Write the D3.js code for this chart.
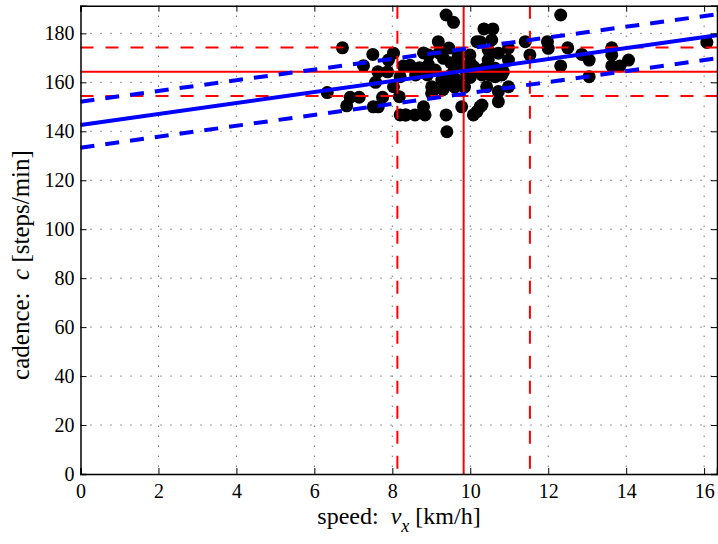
<!DOCTYPE html>
<html>
<head>
<meta charset="utf-8">
<script src="https://cdn.jsdelivr.net/npm/d3@7"></script>
<style>
  body { margin: 0; background: #fff; }
</style>
</head>
<body>
<div id="chart"></div>
<script>
// speed [km/h] and cadence [steps/min] of each run
var speed = [6.72, 7.50, 7.26, 7.90, 8.03, 7.63, 7.88, 8.28, 8.20, 7.57, 8.03, 6.33, 6.92, 7.15, 7.75, 8.18,
  6.83, 7.51, 7.64, 8.20, 8.35, 9.38, 9.57, 9.18, 10.17, 8.93, 9.31, 9.69, 9.99, 8.93, 9.74, 9.27, 9.48,
  9.65, 9.01, 9.01, 8.80, 9.78, 8.33, 8.58, 8.84, 9.38, 9.40, 10.35, 10.58, 10.25, 10.55, 10.98, 11.41,
  10.46, 10.72, 11.53, 10.46, 10.98, 10.08, 10.38, 10.64, 10.85, 10.51, 10.64, 10.81, 10.42, 10.98,
  10.72, 10.72, 10.30, 10.17, 10.08, 12.32, 11.98, 12.00, 12.50, 12.86, 13.05, 12.32, 13.05, 13.63,
  13.63, 13.63, 13.84, 14.06, 16.07, 8.70, 8.90, 9.10, 9.50, 9.60, 9.90, 10.00, 9.30, 9.60, 9.85,
  10.00, 9.20, 8.80, 9.50, 10.20, 10.30, 8.45, 8.60, 9.45, 10.25];
var cadence = [174.1, 171.4, 166.8, 169.1, 171.9, 164.3, 164.3, 166.7, 162.3, 160.0, 158.2, 155.8, 153.9,
  153.9, 153.9, 154.1, 150.4, 150.0, 150.0, 146.7, 146.7, 187.5, 184.5, 176.6, 176.6, 171.2, 169.8,
  171.2, 171.2, 167.1, 167.1, 160.9, 159.6, 160.9, 158.2, 155.5, 150.0, 150.0, 146.7, 146.7, 146.7,
  146.7, 139.8, 181.8, 181.8, 176.6, 177.3, 174.1, 176.6, 173.2, 171.9, 171.2, 169.1, 169.1, 166.4,
  165.7, 165.7, 164.3, 163.0, 162.3, 163.0, 158.2, 158.2, 156.2, 152.1, 150.7, 148.0, 146.7, 187.5,
  176.6, 173.9, 174.1, 171.4, 169.1, 166.7, 162.3, 174.1, 171.2, 166.7, 166.7, 169.1, 176.3, 166.0,
  163.0, 165.0, 163.0, 166.0, 164.0, 162.0, 157.0, 158.0, 158.0, 168.0, 172.0, 172.0, 168.0, 165.0,
  163.0, 167.0, 163.0, 174.0, 150.0];

// mean and mean +/- std of speed and cadence
var speedStats = [8.13, 9.83, 11.53];
var cadenceStats = [154.4, 164.3, 174.2];

// linear fit and its band, as [speed, cadence] end points
var fitMid = [[0, 142.6], [16.33, 179.2]];
var fitUpper = [[0, 152.1], [16.33, 187.8]];
var fitLower = [[0, 133.3], [16.33, 169.8]];

var xTicks = [0, 2, 4, 6, 8, 10, 12, 14, 16];
var yTicks = [0, 20, 40, 60, 80, 100, 120, 140, 160, 180];

var serif = "Liberation Serif";

var svgWidth = 718, svgHeight = 544;
var margin = {top: 5.7, right: 1, bottom: 70, left: 80.5};
var width = svgWidth - margin.left - margin.right;
var height = svgHeight - margin.top - margin.bottom;

var svg = d3.select("#chart").append("svg")
  .attr("width", svgWidth)
  .attr("height", svgHeight);

var g = svg.append("g")
  .attr("transform", `translate(${margin.left}, ${margin.top})`);

var xScale = d3.scaleLinear().domain([0, 16.33]).range([0, width]);
var yScale = d3.scaleLinear().domain([0, 191.3]).range([height, 0]);

// dotted grid
g.append("g").selectAll("line").data(xTicks.slice(1)).enter().append("line")
  .attr("x1", d => xScale(d)).attr("x2", d => xScale(d))
  .attr("y1", 0).attr("y2", height)
  .attr("stroke", "#333").attr("stroke-width", 1).attr("stroke-dasharray", "1,9");
g.append("g").selectAll("line").data(yTicks.slice(1)).enter().append("line")
  .attr("y1", d => yScale(d)).attr("y2", d => yScale(d))
  .attr("x1", 0).attr("x2", width)
  .attr("stroke", "#333").attr("stroke-width", 1).attr("stroke-dasharray", "1,9");

// data points
var points = speed.map((v, i) => ({v: v, c: cadence[i]}));
g.append("g").selectAll("circle").data(points).enter().append("circle")
  .attr("cx", d => xScale(d.v))
  .attr("cy", d => yScale(d.c))
  .attr("r", 6.5)
  .attr("fill", "black");

// red mean / std lines
g.append("g").selectAll("line").data(speedStats).enter().append("line")
  .attr("x1", d => xScale(d)).attr("x2", d => xScale(d))
  .attr("y1", 0).attr("y2", height)
  .attr("stroke", "red").attr("stroke-width", 2)
  .attr("stroke-dasharray", (d, i) => i == 1 ? null : "13,12");
g.append("g").selectAll("line").data(cadenceStats).enter().append("line")
  .attr("y1", d => yScale(d)).attr("y2", d => yScale(d))
  .attr("x1", 0).attr("x2", width)
  .attr("stroke", "red").attr("stroke-width", 2)
  .attr("stroke-dasharray", (d, i) => i == 1 ? null : "13,12");

// blue fit lines
var line = d3.line().x(d => xScale(d[0])).y(d => yScale(d[1]));
g.append("path").datum(fitMid).attr("d", line)
  .attr("fill", "none").attr("stroke", "#0000ff").attr("stroke-width", 4);
[fitUpper, fitLower].forEach(function(f) {
  g.append("path").datum(f).attr("d", line)
    .attr("fill", "none").attr("stroke", "#0000ff").attr("stroke-width", 4)
    .attr("stroke-dasharray", "14,11");
});

// axes with inward ticks, box on all sides
var bottomAxis = d3.axisBottom(xScale).tickValues(xTicks).tickSize(-6).tickPadding(10);
var leftAxis = d3.axisLeft(yScale).tickValues(yTicks).tickSize(-6).tickPadding(6);
g.append("g").attr("transform", `translate(0, ${height})`).call(bottomAxis)
  .attr("font-family", serif).attr("font-size", 20);
g.append("g").call(leftAxis)
  .attr("font-family", serif).attr("font-size", 20);
g.append("g").call(d3.axisTop(xScale).tickValues(xTicks).tickSize(-6).tickFormat(""));
g.append("g").attr("transform", `translate(${width}, 0)`)
  .call(d3.axisRight(yScale).tickValues(yTicks).tickSize(-6).tickFormat(""));

g.selectAll(".domain").attr("stroke", "black").attr("stroke-width", 1.5);
g.selectAll(".tick line").attr("stroke", "black").attr("stroke-width", 1);
g.selectAll(".tick text").attr("fill", "black");

// x label
var xl = svg.append("text")
  .attr("x", 399).attr("y", 524)
  .attr("text-anchor", "middle")
  .attr("font-family", serif).attr("font-size", 24).attr("fill", "black");
xl.append("tspan").text("speed:\u00a0\u00a0");
xl.append("tspan").attr("font-style", "italic").text("v");
xl.append("tspan").attr("font-style", "italic").attr("font-size", 18).attr("dy", 8).text("x");
xl.append("tspan").attr("dy", -8).text(" [km/h]");

// y label
var yl = svg.append("text")
  .attr("transform", "translate(29, 265) rotate(-90)")
  .attr("text-anchor", "middle")
  .attr("font-family", serif).attr("font-size", 25).attr("fill", "black");
yl.append("tspan").text("cadence:\u00a0\u00a0");
yl.append("tspan").attr("font-style", "italic").text("c");
yl.append("tspan").text(" [steps/min]");
</script>
</body>
</html>
